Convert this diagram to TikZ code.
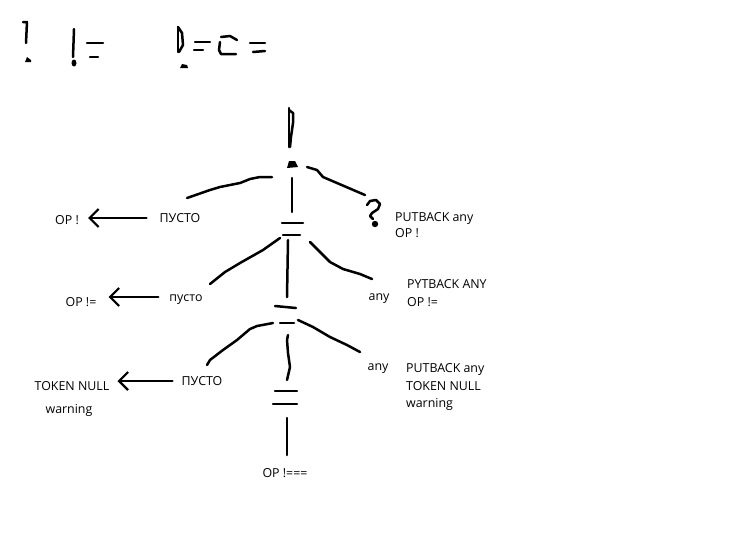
\documentclass[tikz,border=0pt]{standalone}
\usepackage{fontspec}
\setmainfont{Open Sans}
\usetikzlibrary{arrows.meta}
\begin{document}
\begin{tikzpicture}[x=1pt,y=-1pt,
  pen/.style={line width=2.5pt,line cap=round,line join=round},
  arr/.style={pen,-{Straight Barb[length=9pt,width=18pt,line width=2.2pt]}},
  lbl/.style={inner sep=0pt,text height=9pt,text depth=1pt,font=\fontsize{12.4}{14}\selectfont},
  lw/.style={lbl,anchor=west},
  lc/.style={lbl,anchor=center}]
\useasboundingbox (0,0) rectangle (751,558);
\fill[white] (0,0) rectangle (751,558);

% ---- top-left sketch:  !   !=   !===
\draw[pen] (23,22) -- (27,22) -- (26,43);
\fill (25,62) -- (27,57) -- (31,60) -- (31,62) -- cycle;
\draw[pen] (74,29) -- (73,57);
\fill (74,63) ellipse (2.5 and 3.5);
\draw[pen] (87,43) -- (103,43);
\draw[pen] (90,57) -- (98,57);
\draw[pen] (178,27) -- (178,52);
\draw[pen] (178,27) -- (182,33) -- (183,45) -- (179,52);
\fill (180,68) -- (182,64) -- (187,65) -- (188,68) -- cycle;
\draw[pen] (195,42) -- (210,42);
\draw[pen] (194,50) -- (203,50);
\draw[pen] (237,40) -- (230,36) -- (221,37);
\draw[pen] (220,42) -- (219,50) -- (221,54) -- (236,54);
\draw[pen] (250,43) -- (265,43);
\draw[pen] (253,52) -- (265,51);

% ---- tree
\coordinate (bang) at (292,164);
\coordinate (eqA) at (292,229);
\coordinate (eqB) at (287,315);
\coordinate (eqC) at (286,398);
% top "!"
\draw[pen] (289,108) -- (289,147);
\draw[pen] (289,110) -- (293,113) -- (293,123) -- (291,137) -- (290,147);
\fill (287,168) -- (289,161) -- (295,161) -- (298,167) -- cycle;
% branches from "!"
\draw[pen] (bang) ++(-20,13) -- ++(-12,0) -- ++(-10,2) -- ++(-10,4) -- ++(-20,4) -- ++(-10,3) -- ++(-23,8);
\draw[pen] (bang) ++(15,3) -- ++(10,3) -- ++(6,7) -- ++(14,6) -- ++(28,12);
\draw[pen] (bang) ++(0,14) -- ++(0,34);
% "?"
\draw[pen] (367,205) -- (370,201) -- (376,200) -- (380,204) -- (378,209) -- (372,213) -- (370,216) -- (373,219);
\fill (375,224) circle (3.2);
% first "="
\draw[pen] (eqA) ++(-10,-6) -- ++(21,0);
\draw[pen] (eqA) ++(-9,6) -- ++(17,0);
\draw[pen] (eqA) ++(-12,9) -- ++(-17,12) -- ++(-23,13) -- ++(-15,9) -- ++(-15,12);
\draw[pen] (eqA) ++(18,13) -- ++(10,10) -- ++(10,10) -- ++(13,7) -- ++(17,5) -- ++(12,5);
\draw[pen] (eqA) ++(-4,11) -- ++(-1,57);
% second "="
\draw[pen] (eqB) ++(-12,-9) -- ++(21,2);
\draw[pen] (eqB) ++(-7,8) -- ++(14,0);
\draw[pen] (eqB) ++(-14,8) -- ++(-16,3) -- ++(-7,3) -- ++(-13,11) -- ++(-14,10) -- ++(-13,10) -- ++(-3,5);
\draw[pen] (eqB) ++(11,5) -- ++(15,7) -- ++(17,10) -- ++(17,8) -- ++(13,7);
\draw[pen] (eqB) ++(1,20) -- ++(-1,5) -- ++(1,13) -- ++(2,14) -- ++(-3,13);
% third "="
\draw[pen] (eqC) ++(-11,-7) -- ++(22,0);
\draw[pen] (eqC) ++(-13,6) -- ++(24,0);
\draw[pen] (eqC) ++(1,20) -- ++(0,37);

% ---- labels
\node[lc] (opbang) at (67,220) {OP !};
\node[lc] (pustoA) at (180,218) {ПУСТО};
\node[lc] (opne) at (81,302) {OP !=};
\node[lc] (pustoB) at (186,297) {пусто};
\node[lc] (tok) at (72,386) {TOKEN NULL};
\node[lc] (warnL) at (69,409) {warning};
\node[lc] (pustoC) at (202,381) {ПУСТО};
\node[lc] (final) at (285,473) {OP !===};

\node[lw] (putA) at (395,217) {PUTBACK any};
\node[lw] (putAop) at (395,233) {OP !};
\node[lc] (anyB) at (379,296) {any};
\node[lw] (putB) at (407,284) {PYTBACK ANY};
\node[lw] (putBop) at (407,302) {OP !=};
\node[lc] (anyC) at (378,366) {any};
\node[lw] (putC) at (406,368) {PUTBACK any};
\node[lw] (putCtok) at (406,386) {TOKEN NULL};
\node[lw] (putCw) at (406,403) {warning};

% ---- arrows
\draw[arr,shorten <=13pt,shorten >=9pt] (pustoA.west) -- (pustoA.west -| opbang.east);
\draw[arr,shorten <=11pt,shorten >=12pt] (pustoB.west) -- (pustoB.west -| opne.east);
\draw[arr,shorten <=9pt,shorten >=8pt] (pustoC.west) -- (pustoC.west -| tok.east);
\end{tikzpicture}
\end{document}
